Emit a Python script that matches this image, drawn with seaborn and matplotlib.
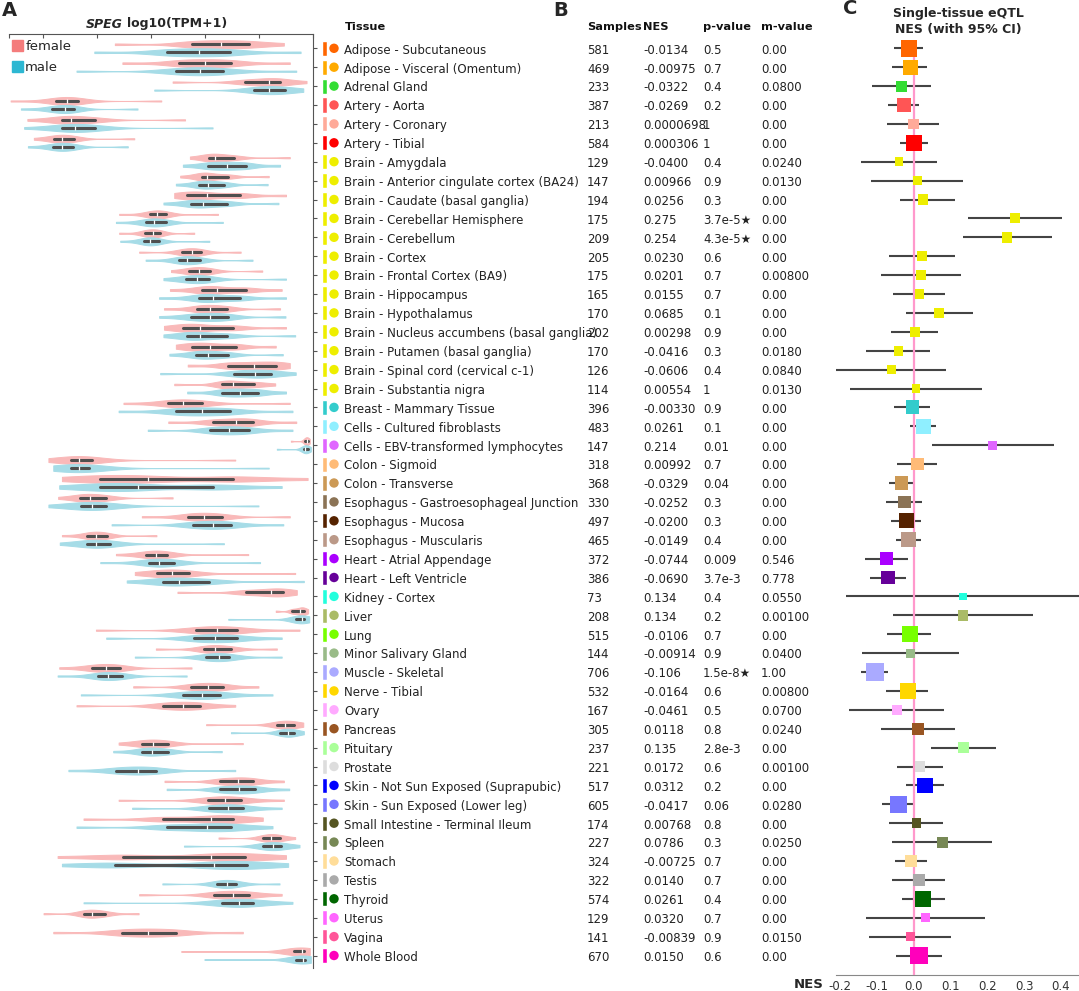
import matplotlib
matplotlib.use("Agg")
import matplotlib.pyplot as plt
from matplotlib.patches import Patch
import seaborn as sns
import pandas as pd

# ---- data ----
tissues = [
    "Adipose - Subcutaneous", "Adipose - Visceral (Omentum)", "Adrenal Gland",
    "Artery - Aorta", "Artery - Coronary", "Artery - Tibial", "Brain - Amygdala",
    "Brain - Anterior cingulate cortex (BA24)", "Brain - Caudate (basal ganglia)",
    "Brain - Cerebellar Hemisphere", "Brain - Cerebellum", "Brain - Cortex",
    "Brain - Frontal Cortex (BA9)", "Brain - Hippocampus", "Brain - Hypothalamus",
    "Brain - Nucleus accumbens (basal ganglia)", "Brain - Putamen (basal ganglia)",
    "Brain - Spinal cord (cervical c-1)", "Brain - Substantia nigra",
    "Breast - Mammary Tissue", "Cells - Cultured fibroblasts",
    "Cells - EBV-transformed lymphocytes", "Colon - Sigmoid", "Colon - Transverse",
    "Esophagus - Gastroesophageal Junction", "Esophagus - Mucosa",
    "Esophagus - Muscularis", "Heart - Atrial Appendage", "Heart - Left Ventricle",
    "Kidney - Cortex", "Liver", "Lung", "Minor Salivary Gland", "Muscle - Skeletal",
    "Nerve - Tibial", "Ovary", "Pancreas", "Pituitary", "Prostate",
    "Skin - Not Sun Exposed (Suprapubic)", "Skin - Sun Exposed (Lower leg)",
    "Small Intestine - Terminal Ileum", "Spleen", "Stomach", "Testis", "Thyroid",
    "Uterus", "Vagina", "Whole Blood",
]
samples = [581, 469, 233, 387, 213, 584, 129, 147, 194, 175, 209, 205, 175, 165, 170,
           202, 170, 126, 114, 396, 483, 147, 318, 368, 330, 497, 465, 372, 386, 73,
           208, 515, 144, 706, 532, 167, 305, 237, 221, 517, 605, 174, 227, 324, 322,
           574, 129, 141, 670]
nes_text = ["-0.0134", "-0.00975", "-0.0322", "-0.0269", "0.0000698", "0.000306",
            "-0.0400", "0.00966", "0.0256", "0.275", "0.254", "0.0230", "0.0201",
            "0.0155", "0.0685", "0.00298", "-0.0416", "-0.0606", "0.00554", "-0.00330",
            "0.0261", "0.214", "0.00992", "-0.0329", "-0.0252", "-0.0200", "-0.0149",
            "-0.0744", "-0.0690", "0.134", "0.134", "-0.0106", "-0.00914", "-0.106",
            "-0.0164", "-0.0461", "0.0118", "0.135", "0.0172", "0.0312", "-0.0417",
            "0.00768", "0.0786", "-0.00725", "0.0140", "0.0261", "0.0320", "-0.00839",
            "0.0150"]
pval_text = ["0.5", "0.7", "0.4", "0.2", "1", "1", "0.4", "0.9", "0.3", "3.7e-5★",
             "4.3e-5★", "0.6", "0.7", "0.7", "0.1", "0.9", "0.3", "0.4", "1", "0.9",
             "0.1", "0.01", "0.7", "0.04", "0.3", "0.3", "0.4", "0.009", "3.7e-3",
             "0.4", "0.2", "0.7", "0.9", "1.5e-8★", "0.6", "0.5", "0.8", "2.8e-3",
             "0.6", "0.2", "0.06", "0.8", "0.3", "0.7", "0.7", "0.4", "0.7", "0.9",
             "0.6"]
mval_text = ["0.00", "0.00", "0.0800", "0.00", "0.00", "0.00", "0.0240", "0.0130",
             "0.00", "0.00", "0.00", "0.00", "0.00800", "0.00", "0.00", "0.00",
             "0.0180", "0.0840", "0.0130", "0.00", "0.00", "0.00", "0.00", "0.00",
             "0.00", "0.00", "0.00", "0.546", "0.778", "0.0550", "0.00100", "0.00",
             "0.0400", "1.00", "0.00800", "0.0700", "0.0240", "0.00", "0.00100", "0.00",
             "0.0280", "0.00", "0.0250", "0.00", "0.00", "0.00", "0.00", "0.0150",
             "0.00"]
tissue_colors = [
    "#FF6600", "#FFAA00", "#33DD33", "#FF5555", "#FFAA99", "#FF0000",
    "#EEEE00", "#EEEE00", "#EEEE00", "#EEEE00", "#EEEE00", "#EEEE00", "#EEEE00",
    "#EEEE00", "#EEEE00", "#EEEE00", "#EEEE00", "#EEEE00", "#EEEE00",
    "#33CCCC", "#8FEFFF", "#E066FF", "#FFBB77", "#CC9955", "#8B7355", "#552200",
    "#BB9988", "#AA00FF", "#660099", "#22FFDD", "#AABB66", "#77FF00", "#99BB88",
    "#AAAAFF", "#FFD700", "#FFAAFF", "#995522", "#AAFF99", "#DDDDDD", "#0000FF",
    "#7777FF", "#555522", "#778855", "#FFDD99", "#AAAAAA", "#006600", "#FF66FF",
    "#FF5599", "#FF00BB",
]
ci_low = [-0.053, -0.058, -0.112, -0.069, -0.072, -0.038, -0.144, -0.116, -0.038, 0.147,
          0.133, -0.066, -0.089, -0.055, -0.022, -0.061, -0.130, -0.213, -0.174, -0.053,
          -0.011, 0.051, -0.044, -0.067, -0.074, -0.061, -0.049, -0.132, -0.119, -0.185,
          -0.055, -0.072, -0.140, -0.143, -0.074, -0.177, -0.088, 0.047, -0.046, -0.022,
          -0.085, -0.066, -0.058, -0.052, -0.058, -0.033, -0.130, -0.121, -0.049]
ci_high = [0.025, 0.035, 0.046, 0.014, 0.069, 0.038, 0.063, 0.133, 0.111, 0.404,
           0.376, 0.111, 0.128, 0.086, 0.160, 0.066, 0.044, 0.088, 0.186, 0.044,
           0.061, 0.380, 0.064, 0.000, 0.022, 0.019, 0.019, -0.016, -0.022, 0.46,
           0.323, 0.047, 0.122, -0.070, 0.039, 0.083, 0.111, 0.224, 0.081, 0.082,
           0.003, 0.081, 0.213, 0.036, 0.086, 0.086, 0.193, 0.102, 0.078]

# expression summaries per tissue (axis units, one unit per top tick); None = no samples
f_lo = [1.33, 1.47, 2.40, -0.60, -0.29, -0.17, 2.72, 2.54, 2.43, 1.41, 1.41, 1.78, 2.37,
        2.35, 2.24, 2.24, 2.46, 2.68, 2.43, 1.49, 2.32, 4.59, 0.10, 0.35, 0.28, 1.83,
        0.35, 1.35, 1.70, 2.49, 4.31, 0.98, 2.09, 0.30, 1.67, 0.62, 3.02, 1.40, None,
        2.25, 1.40, 0.75, 3.25, 0.27, None, 1.78, 0.01, 0.19, 2.56]
f_q1 = [2.75, 2.52, 3.74, 0.24, 0.35, 0.20, 3.08, 2.94, 2.67, 1.98, 1.88, 2.58, 2.71,
        2.94, 2.86, 2.59, 2.75, 3.43, 3.32, 2.32, 3.14, 4.85, 0.51, 1.06, 0.69, 2.69,
        0.82, 1.91, 2.12, 3.75, 4.62, 2.83, 2.99, 0.90, 2.74, 2.22, 4.33, 1.83, None,
        3.28, 3.06, 2.22, 4.08, 1.49, None, 3.17, 0.76, 1.46, 4.64]
f_med = [3.29, 3.00, 4.19, 0.44, 0.51, 0.36, 3.19, 3.03, 3.03, 2.12, 2.03, 2.75, 2.89,
         3.22, 3.09, 2.91, 3.09, 3.90, 3.52, 2.59, 3.57, 4.88, 0.67, 1.94, 0.87, 2.98,
         0.99, 2.10, 2.38, 4.22, 4.76, 3.23, 3.19, 1.17, 3.06, 2.59, 4.49, 2.04, None,
         3.62, 3.37, 3.12, 4.23, 3.12, None, 3.51, 0.90, 1.95, 4.79]
f_q3 = [3.82, 3.49, 4.39, 0.65, 0.96, 0.57, 3.54, 3.42, 3.64, 2.27, 2.17, 2.92, 3.10,
        3.75, 3.40, 3.52, 3.57, 4.31, 3.91, 2.95, 3.88, 4.91, 0.90, 3.52, 1.17, 3.31,
        1.18, 2.29, 2.70, 4.45, 4.83, 3.59, 3.48, 1.43, 3.33, 2.91, 4.64, 2.31, None,
        3.88, 3.66, 3.51, 4.39, 3.74, None, 3.82, 1.14, 2.46, 4.83]
f_hi = [4.46, 4.57, 4.88, 2.19, 2.63, 1.69, 4.57, 4.18, 4.50, 3.24, 2.80, 3.66, 4.06,
        4.42, 4.39, 4.50, 4.31, 4.57, 4.30, 4.57, 4.69, 4.94, 3.56, 4.90, 2.40, 4.57,
        2.10, 3.80, 4.67, 4.70, 4.91, 4.75, 4.33, 2.75, 3.99, 3.56, 4.82, 3.70, None,
        4.46, 4.46, 4.07, 4.67, 4.50, None, 4.42, 1.77, 3.70, 4.94]
m_lo = [0.95, 0.62, 2.06, -0.41, -0.35, -0.28, 2.59, 2.46, 2.23, 1.35, 1.43, 1.90, 2.23,
        2.15, 2.15, 2.23, 2.34, 2.17, 2.67, 1.40, 1.94, 4.33, 0.19, 0.30, 0.10, 1.27,
        0.31, 1.06, 1.55, None, 3.43, 1.17, 1.70, 0.27, 0.70, None, 3.48, 1.30, 0.47,
        2.29, 1.65, 0.62, 2.61, 0.35, 2.21, 0.75, None, None, 2.99]
m_q1 = [2.30, 2.46, 3.91, 0.17, 0.36, 0.18, 3.06, 2.88, 2.74, 1.90, 1.87, 2.51, 2.64,
        2.88, 2.74, 2.67, 2.83, 3.54, 3.32, 2.46, 3.10, 4.83, 0.51, 1.06, 0.70, 2.77,
        0.81, 1.96, 2.22, None, 4.68, 2.80, 3.01, 1.01, 2.59, None, 4.39, 1.83, 1.35,
        3.28, 3.08, 2.29, 4.08, 1.33, 3.23, 3.32, None, None, 4.69]
m_med = [2.88, 2.91, 4.19, 0.41, 0.59, 0.36, 3.40, 3.06, 2.97, 2.06, 1.98, 2.67, 2.86,
         3.14, 3.09, 2.90, 3.06, 3.93, 3.64, 2.94, 3.45, 4.86, 0.67, 1.75, 0.90, 3.14,
         0.99, 2.15, 2.51, None, 4.79, 3.19, 3.25, 1.21, 2.94, None, 4.54, 2.02, 1.75,
         3.63, 3.42, 3.04, 4.25, 3.17, 3.40, 3.63, None, None, 4.81]
m_q3 = [3.46, 3.33, 4.48, 0.57, 0.96, 0.56, 3.76, 3.36, 3.40, 2.27, 2.14, 2.91, 3.08,
        3.64, 3.42, 3.41, 3.42, 4.22, 3.99, 3.46, 3.81, 4.90, 0.86, 3.15, 1.17, 3.48,
        1.24, 2.43, 3.08, None, 4.83, 3.59, 3.45, 1.46, 3.28, None, 4.64, 2.32, 2.10,
        3.93, 3.71, 3.49, 4.41, 3.77, 3.57, 3.88, None, None, 4.85]
m_hi = [4.77, 4.69, 4.82, 1.75, 3.14, 1.57, 4.39, 4.16, 4.36, 3.33, 3.08, 3.88, 4.50,
        4.50, 4.49, 4.67, 4.44, 4.68, 4.50, 4.62, 4.62, 4.96, 4.18, 4.42, 3.99, 4.45,
        3.35, 4.02, 4.83, None, 4.93, 4.42, 4.42, 2.66, 4.25, None, 4.83, 3.31, 3.56,
        4.56, 4.42, 4.25, 4.75, 4.54, 4.38, 4.62, None, None, 4.96]

# ---- layout helpers (figure pixels) ----
W, H = 1079, 991
ROW0, ROWSTEP = 48.3, 18.9


def box(l, t, r, b):
    return [l / W, 1 - b / H, (r - l) / W, (b - t) / H]


def rowlim(t, b):
    return ((b - ROW0) / ROWSTEP, (t - ROW0) / ROWSTEP)


def fx(px):
    return px / W


def fy(py):
    return 1 - py / H


sns.set_style("white")
plt.rcParams["font.family"] = ["DejaVu Sans"]

# long table for the violins; the centre summaries get more weight than the tails
recs = []
for i, t in enumerate(tissues):
    for sex, lo, q1, md, q3, hi in (("female", f_lo[i], f_q1[i], f_med[i], f_q3[i], f_hi[i]),
                                    ("male", m_lo[i], m_q1[i], m_med[i], m_q3[i], m_hi[i])):
        if lo is None:
            continue
        for v in [lo] + [q1] * 3 + [md] * 3 + [q3] * 3 + [hi]:
            recs.append({"tissue": t, "sex": sex, "value": v})
vdf = pd.DataFrame(recs)

fig = plt.figure(figsize=(W / 100, H / 100), dpi=100)
rows = list(range(len(tissues)))

# ---- panel A: violins ----
ax_v = fig.add_axes(box(9, 34, 313, 968))
sns.violinplot(data=vdf, x="value", y="tissue", hue="sex", order=tissues,
               hue_order=["female", "male"],
               palette={"female": "#F9B9B9", "male": "#A6DCE7"},
               orient="y", width=0.85, cut=0, density_norm="width", common_norm=False,
               bw_adjust=0.7, inner="box",
               inner_kws=dict(box_width=2.2, whis_width=0, marker="|",
                              markersize=3.2, markeredgewidth=0.9),
               linewidth=0.7, linecolor="#4F4F4F", saturation=1, legend=False, ax=ax_v)
for coll in ax_v.collections:
    coll.set_edgecolor(coll.get_facecolor())
ax_v.set_xlim(-0.63, 5.0)
ax_v.set_ylim(*rowlim(34, 968))
ax_v.set_xlabel("")
ax_v.set_ylabel("")
ax_v.xaxis.tick_top()
ax_v.set_xticks([-0.63, 0, 1, 2, 3, 4, 5])
ax_v.set_xticklabels([])
ax_v.yaxis.tick_right()
ax_v.set_yticks(rows)
ax_v.set_yticklabels([])
ax_v.tick_params(axis="x", direction="in", length=3, width=0.8, color="#555555")
ax_v.tick_params(axis="y", direction="out", length=3, width=0.8, color="#555555")
for s in ("left", "bottom"):
    ax_v.spines[s].set_visible(False)
for s in ("top", "right"):
    ax_v.spines[s].set_color("#555555")
    ax_v.spines[s].set_linewidth(0.8)
ax_v.legend(handles=[Patch(color="#F47C7C"), Patch(color="#2DB7D2")],
            labels=["female", "male"], loc="upper left",
            bbox_to_anchor=(fx(12), fy(40)), bbox_transform=fig.transFigure,
            frameon=False, fontsize=9.5, handlelength=0.85, handleheight=0.85,
            handletextpad=0.15, labelspacing=0.6, borderpad=0, borderaxespad=0)

# ---- panel B: table ----
ax_t = fig.add_axes(box(315, 34, 836, 975))
ax_t.set_xlim(315, 836)
ax_t.set_ylim(*rowlim(34, 975))
ax_t.axis("off")
ax_t.barh(rows, width=4.5, left=322, height=0.8, color=tissue_colors)
ax_t.scatter([334] * len(rows), rows, s=46, c=tissue_colors, linewidths=0)
fs = 8.5
for i in rows:
    y = i + 0.1
    ax_t.text(344, y, tissues[i], va="center", fontsize=fs, color="#222222")
    ax_t.text(587, y, str(samples[i]), va="center", fontsize=fs, color="#222222")
    ax_t.text(643, y, nes_text[i], va="center", fontsize=fs, color="#222222")
    ax_t.text(703, y, pval_text[i], va="center", fontsize=fs, color="#222222")
    ax_t.text(761, y, mval_text[i], va="center", fontsize=fs, color="#222222")

for px, label in ((345, "Tissue"), (587, "Samples"), (643, "NES"), (703, "p-value"),
                  (761, "m-value")):
    fig.text(fx(px), fy(26.5), label, va="center", ha="left", fontsize=8.2,
             weight="bold", color="#111111")

# ---- panel C: forest ----
nes = [float(v) for v in nes_text]
ax_f = fig.add_axes(box(836, 40, 1079, 975))
ax_f.hlines(rows, ci_low, ci_high, color="#444444", lw=1.5, zorder=2)
ax_f.axvline(0, color="#FF99CC", lw=1.6, zorder=3)
sns.scatterplot(x=nes, y=rows, hue=tissues, palette=dict(zip(tissues, tissue_colors)),
                size=samples, sizes=(27.6, 168), marker="s", linewidth=0,
                legend=False, ax=ax_f, zorder=4)
ax_f.set_xlim(-0.2111, 0.4492)
ax_f.set_ylim(*rowlim(40, 975))
ax_f.set_yticks([])
ax_f.set_xticks([-0.2, -0.1, 0.0, 0.1, 0.2, 0.3, 0.4])
ax_f.set_xticklabels(["-0.2", "-0.1", "0.0", "0.1", "0.2", "0.3", "0.4"])
ax_f.set_xticks([-0.2111], minor=True)
ax_f.tick_params(axis="x", which="both", direction="out", length=3, width=0.8,
                 color="#888888", labelsize=8.5, labelcolor="#333333", pad=0.5)
for s in ("left", "right", "top"):
    ax_f.spines[s].set_visible(False)
ax_f.spines["bottom"].set_color("#888888")
ax_f.spines["bottom"].set_linewidth(0.8)
fig.text(fx(824), fy(984), "NES", ha="right", va="center", fontsize=9.5, weight="bold")

# ---- titles / panel letters ----
fig.text(fx(123), fy(24), "SPEG", ha="right", va="center", fontsize=9,
         weight="bold", style="italic")
fig.text(fx(127), fy(24), "log10(TPM+1)", ha="left", va="center", fontsize=9,
         weight="bold")
fig.text(fx(958), fy(13), "Single-tissue eQTL", ha="center", va="center", fontsize=9,
         weight="bold")
fig.text(fx(958), fy(30), "NES (with 95% CI)", ha="center", va="center", fontsize=9,
         weight="bold")
for px, py, letter in ((2, 11, "A"), (553, 10, "B"), (843, 9, "C")):
    fig.text(fx(px), fy(py), letter, ha="left", va="center", fontsize=14, weight="bold")

fig.savefig("out.png", dpi=100)
